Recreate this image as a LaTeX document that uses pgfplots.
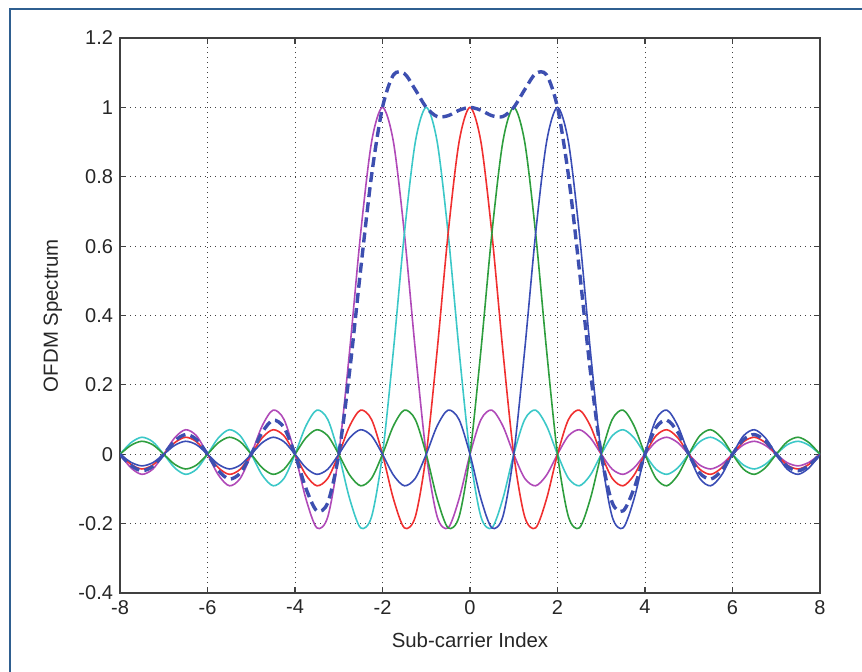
\documentclass[border=0pt]{standalone}
\usepackage{fontspec}
\setmainfont{Liberation Sans}
\usepackage{pgfplots}
\usepackage{pgfplotstable}
\pgfplotsset{compat=1.18}
\definecolor{cmag}{HTML}{B04AB8}
\definecolor{ccyan}{HTML}{3CC8C8}
\definecolor{cred}{HTML}{F03030}
\definecolor{cgreen}{HTML}{2E9E3E}
\definecolor{cblue}{HTML}{3A4DB5}
\definecolor{csum}{HTML}{3D4FB0}
\definecolor{frameblue}{HTML}{2F5F90}

% sub-carrier spectra (centres -2,-1,0,1,2) and their sum
\pgfplotstableread{
x m c r g b s
-8 0 0 0 0 0 0
-7.75 -0.0391 0.0333 -0.0290 0.0257 -0.0231 -0.0322
-7.5 -0.0579 0.0490 -0.0424 0.0374 -0.0335 -0.0474
-7.25 -0.0429 0.0360 -0.0310 0.0273 -0.0243 -0.0349
-7 0 0 0 0 0 0
-6.75 0.0474 -0.0391 0.0333 -0.0290 0.0257 0.0383
-6.5 0.0707 -0.0579 0.0490 -0.0424 0.0374 0.0568
-6.25 0.0530 -0.0429 0.0360 -0.0310 0.0273 0.0424
-6 0 0 0 0 0 0
-5.75 -0.0600 0.0474 -0.0391 0.0333 -0.0290 -0.0474
-5.5 -0.0909 0.0707 -0.0579 0.0490 -0.0424 -0.0715
-5.25 -0.0693 0.0530 -0.0429 0.0360 -0.0310 -0.0542
-5 0 0 0 0 0 0
-4.75 0.0818 -0.0600 0.0474 -0.0391 0.0333 0.0634
-4.5 0.1273 -0.0909 0.0707 -0.0579 0.0490 0.0982
-4.25 0.1000 -0.0693 0.0530 -0.0429 0.0360 0.0768
-4 0 0 0 0 0 0
-3.75 -0.1286 0.0818 -0.0600 0.0474 -0.0391 -0.0985
-3.5 -0.2122 0.1273 -0.0909 0.0707 -0.0579 -0.1630
-3.25 -0.1801 0.1000 -0.0693 0.0530 -0.0429 -0.1393
-3 0 0 0 0 0 0
-2.75 0.3001 -0.1286 0.0818 -0.0600 0.0474 0.2407
-2.5 0.6366 -0.2122 0.1273 -0.0909 0.0707 0.5315
-2.25 0.9003 -0.1801 0.1000 -0.0693 0.0530 0.8039
-2 1 0 0 0 0 1
-1.75 0.9003 0.3001 -0.1286 0.0818 -0.0600 1.0936
-1.5 0.6366 0.6366 -0.2122 0.1273 -0.0909 1.0974
-1.25 0.3001 0.9003 -0.1801 0.1000 -0.0693 1.0510
-1 0 1 0 0 0 1
-0.75 -0.1801 0.9003 0.3001 -0.1286 0.0818 0.9735
-0.5 -0.2122 0.6366 0.6366 -0.2122 0.1273 0.9761
-0.25 -0.1286 0.3001 0.9003 -0.1801 0.1000 0.9917
0 0 0 1 0 0 1
0.25 0.1000 -0.1801 0.9003 0.3001 -0.1286 0.9917
0.5 0.1273 -0.2122 0.6366 0.6366 -0.2122 0.9761
0.75 0.0818 -0.1286 0.3001 0.9003 -0.1801 0.9735
1 0 0 0 1 0 1
1.25 -0.0693 0.1000 -0.1801 0.9003 0.3001 1.0510
1.5 -0.0909 0.1273 -0.2122 0.6366 0.6366 1.0974
1.75 -0.0600 0.0818 -0.1286 0.3001 0.9003 1.0936
2 0 0 0 0 1 1
2.25 0.0530 -0.0693 0.1000 -0.1801 0.9003 0.8039
2.5 0.0707 -0.0909 0.1273 -0.2122 0.6366 0.5315
2.75 0.0474 -0.0600 0.0818 -0.1286 0.3001 0.2407
3 0 0 0 0 0 0
3.25 -0.0429 0.0530 -0.0693 0.1000 -0.1801 -0.1393
3.5 -0.0579 0.0707 -0.0909 0.1273 -0.2122 -0.1630
3.75 -0.0391 0.0474 -0.0600 0.0818 -0.1286 -0.0985
4 0 0 0 0 0 0
4.25 0.0360 -0.0429 0.0530 -0.0693 0.1000 0.0768
4.5 0.0490 -0.0579 0.0707 -0.0909 0.1273 0.0982
4.75 0.0333 -0.0391 0.0474 -0.0600 0.0818 0.0634
5 0 0 0 0 0 0
5.25 -0.0310 0.0360 -0.0429 0.0530 -0.0693 -0.0542
5.5 -0.0424 0.0490 -0.0579 0.0707 -0.0909 -0.0715
5.75 -0.0290 0.0333 -0.0391 0.0474 -0.0600 -0.0474
6 0 0 0 0 0 0
6.25 0.0273 -0.0310 0.0360 -0.0429 0.0530 0.0424
6.5 0.0374 -0.0424 0.0490 -0.0579 0.0707 0.0568
6.75 0.0257 -0.0290 0.0333 -0.0391 0.0474 0.0383
7 0 0 0 0 0 0
7.25 -0.0243 0.0273 -0.0310 0.0360 -0.0429 -0.0349
7.5 -0.0335 0.0374 -0.0424 0.0490 -0.0579 -0.0474
7.75 -0.0231 0.0257 -0.0290 0.0333 -0.0391 -0.0322
8 0 0 0 0 0 0
}\spectra

\begin{document}
\begin{tikzpicture}
\path[use as bounding box] (-60pt,-39pt) rectangle (371pt,296.5pt);
\draw[frameblue,line width=1.1pt] (-55pt,-45pt) -- (-55pt,292pt) -- (380pt,292pt);
\begin{axis}[
  at={(0,0)},anchor=south west,
  width=350pt,height=277.5pt,scale only axis,
  xmin=-8,xmax=8,ymin=-0.4,ymax=1.2,
  xtick={-8,-6,...,8},
  ytick={-0.4,-0.2,0,0.2,0.4,0.6,0.8,1,1.2},
  grid=major,
  major grid style={black!75,line width=0.5pt,dash pattern=on 0.6pt off 1.9pt},
  tick align=inside,major tick length=3.2pt,
  axis line style={black!75,line width=0.6pt},
  every tick/.style={black!75,line width=0.6pt},
  tick label style={font=\fontsize{10}{12}\selectfont,text=black!85},
  /pgf/number format/assume math mode=true,
  label style={font=\fontsize{10.2}{12}\selectfont,text=black!85},
  xlabel={Sub-carrier Index},
  ylabel={OFDM Spectrum},
  xlabel style={at={(axis description cs:0.5,-0.085)},anchor=center},
  ylabel style={at={(axis description cs:-0.096,0.5)},anchor=center,rotate=0},
  clip=true,
  every axis plot/.append style={smooth,line width=0.8pt},
]
\addplot[cmag] table[x=x,y=m] {\spectra};
\addplot[ccyan] table[x=x,y=c] {\spectra};
\addplot[cred] table[x=x,y=r] {\spectra};
\addplot[cgreen] table[x=x,y=g] {\spectra};
\addplot[cblue] table[x=x,y=b] {\spectra};
\addplot[csum,line width=1.7pt,dash pattern=on 5pt off 2.6pt] table[x=x,y=s] {\spectra};
\end{axis}
\end{tikzpicture}
\end{document}
